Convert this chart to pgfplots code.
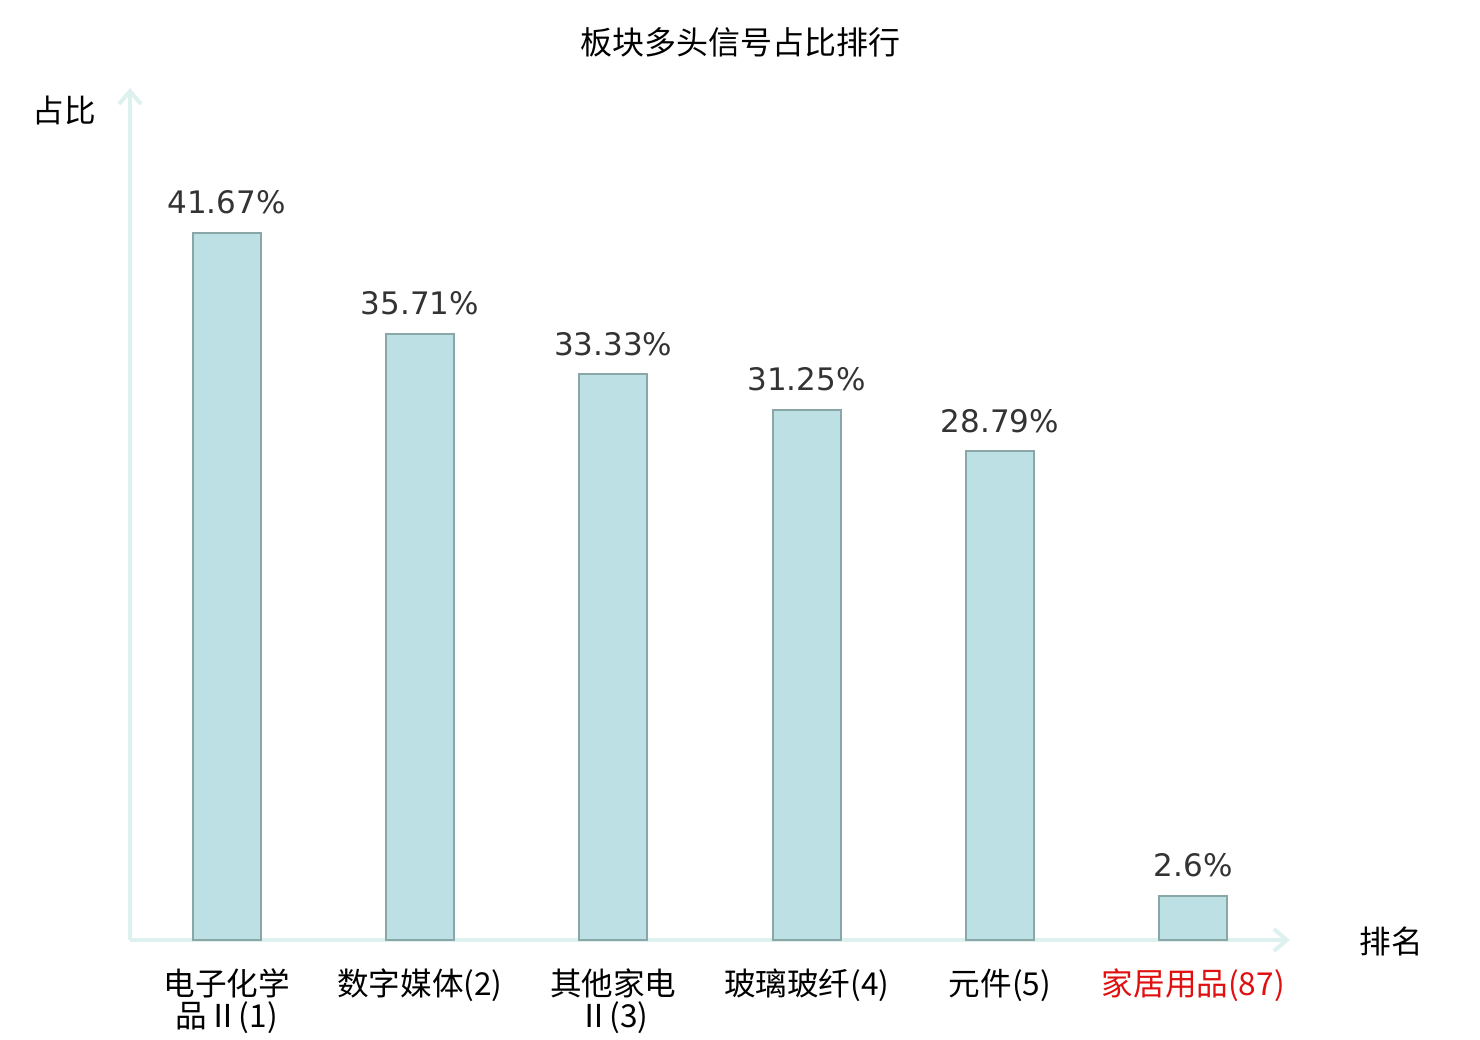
\documentclass[border=0pt]{standalone}
\usepackage{pgfplots}
\pgfplotsset{compat=1.18}
\usepackage{fontspec}
\setmainfont{DejaVu Sans}
\newfontfamily\cjk{Noto Sans CJK SC}
\usetikzlibrary{arrows.meta}
\definecolor{barfill}{HTML}{BCE0E3}
\definecolor{baredge}{HTML}{8AA6A7}
\definecolor{axcol}{HTML}{DDF1EF}
\definecolor{valcol}{HTML}{333333}
\definecolor{redlab}{HTML}{E01010}
\begin{document}
\begin{tikzpicture}[x=1pt,y=1pt]
\path[use as bounding box] (0,0) rectangle (740,520);
\begin{axis}[
  at={(65pt,50pt)}, anchor=south west,
  scale only axis,
  width=580pt, height=426pt,
  xmin=-0.5, xmax=5.5,
  ymin=0, ymax=50.2,
  axis lines=left,
  axis line style={draw=axcol, line width=2pt, -{Straight Barb[length=6.5pt,width=11pt,line width=2pt]}},
  ytick=\empty,
  xtick={0,1,2,3,4,5},
  major tick length=0pt,
  xticklabels={{电子化学\\品Ⅱ(1)},{数字媒体(2)},{其他家电\\Ⅱ(3)},{玻璃玻纤(4)},{元件(5)},{\color{redlab}家居用品(87)}},
  xticklabel style={font=\cjk\fontsize{15.8}{16}\selectfont, align=center, anchor=north, yshift=-11pt},
  clip=false,
  point meta=explicit symbolic,
  nodes near coords,
  nodes near coords style={font=\fontsize{15.5}{18}\selectfont, text=valcol, anchor=south, yshift=5.5pt},
]
\addplot[ybar, bar width=34pt, fill=barfill, draw=baredge, line width=1pt] coordinates {
  (0,41.67) [41.67\%]
  (1,35.71) [35.71\%]
  (2,33.33) [33.33\%]
  (3,31.25) [31.25\%]
  (4,28.79) [28.79\%]
  (5,2.6) [2.6\%]
};
\end{axis}
\node[font=\cjk\fontsize{16}{18}\selectfont, anchor=center] at (370,499) {板块多头信号占比排行};
\node[font=\cjk\fontsize{15.8}{18}\selectfont, anchor=center] at (32,465) {占比};
\node[font=\cjk\fontsize{15.8}{18}\selectfont, anchor=center] at (695.5,49.5) {排名};
\end{tikzpicture}
\end{document}
